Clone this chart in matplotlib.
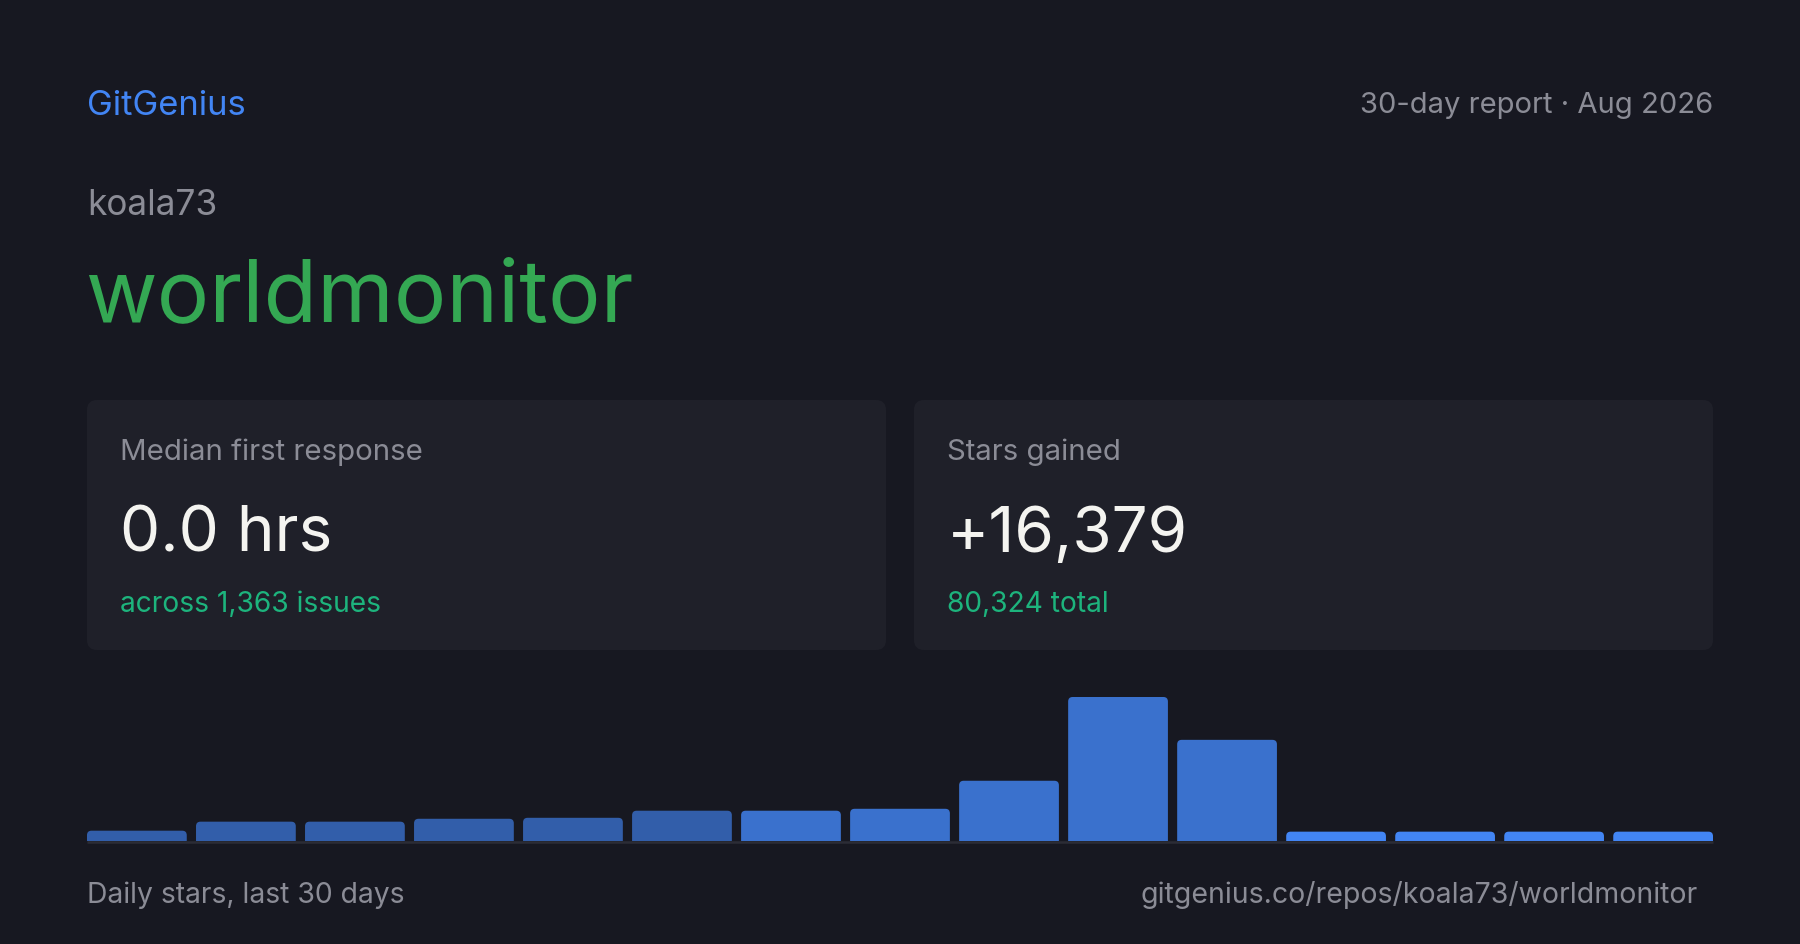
import matplotlib
matplotlib.use("Agg")
import matplotlib.pyplot as plt
from matplotlib.patches import FancyBboxPatch

# ---------------- data ----------------
brand = "GitGenius"
report_label = "30-day report · Aug 2026"
owner = "koala73"
repo = "worldmonitor"
card_titles = ["Median first response", "Stars gained"]
card_values = ["0.0 hrs", "+16,379"]
card_notes = ["across 1,363 issues", "80,324 total"]
daily_stars = [320, 600, 600, 690, 720, 940, 940, 1000, 1870, 4470, 3140, 290, 290, 290, 290]
bar_alpha = [0.65, 0.65, 0.65, 0.65, 0.65, 0.65, 0.82, 0.82, 0.82, 0.82, 0.82, 1.0, 1.0, 1.0, 1.0]
footer_left = "Daily stars, last 30 days"
footer_right = "gitgenius.co/repos/koala73/worldmonitor"

# ---------------- style ----------------
W, H, DPI = 1800, 945, 100
BG = "#171821"
CARD = "#1f2029"
BLUE = "#4285f4"
GREEN = "#34a853"
TEAL = "#1db47d"
GRAY = "#8b8c96"
WHITE = "#f4f4f0"
FONT = ["Inter", "DejaVu Sans"]
plt.rcParams["font.family"] = FONT

fig = plt.figure(figsize=(W / DPI, H / DPI), dpi=DPI, facecolor=BG)

# layout axes in pixel coordinates (y downwards)
lay = fig.add_axes([0, 0, 1, 1])
lay.set_xlim(0, W)
lay.set_ylim(H, 0)
lay.axis("off")
lay.set_facecolor(BG)

L, R = 87, 1713

lay.text(L, 115, brand, color=BLUE, fontsize=24.9, va="baseline", ha="left")
lay.text(R, 113, report_label, color=GRAY, fontsize=21, va="baseline", ha="right")
lay.text(L, 215, owner, color=GRAY, fontsize=25.4, va="baseline", ha="left")
lay.text(L - 2, 321, repo, color=GREEN, fontsize=63, va="baseline", ha="left")

# cards
card_x = [(87, 886), (914, 1713)]
card_top, card_bot = 401, 651
for (x0, x1), t, v, n in zip(card_x, card_titles, card_values, card_notes):
    p = FancyBboxPatch((x0, card_top), x1 - x0, card_bot - card_top,
                       boxstyle="round,pad=0,rounding_size=10",
                       facecolor=CARD, edgecolor="none")
    lay.add_patch(p)
    tx = x0 + 33
    lay.text(tx, 460, t, color=GRAY, fontsize=21.2, va="baseline", ha="left")
    lay.text(tx, 552, v, color=WHITE, fontsize=46, va="baseline", ha="left")
    lay.text(tx, 612, n, color=TEAL, fontsize=20.3, va="baseline", ha="left")

# footer
lay.text(L, 903, footer_left, color=GRAY, fontsize=20.4, va="baseline", ha="left")
lay.text(1698, 903, footer_right, color=GRAY, fontsize=20.5, va="baseline", ha="right")

# baseline rule
lay.plot([L, R], [843, 843], color="#2b2c36", lw=1.8, solid_capstyle="butt")

# ---------------- bar chart ----------------
base_y, top_y = 842, 690
ax = fig.add_axes([L / W, 1 - base_y / H, (R - L) / W, (base_y - top_y) / H])
ax.set_facecolor("none")
ax.axis("off")
n = len(daily_stars)
bw = 0.915
xs = list(range(n))
ymax = max(daily_stars) * (base_y - top_y) / 144.0
ax.set_xlim(-bw / 2, n - 1 + bw / 2)
ax.set_ylim(0, ymax)
bars = ax.bar(xs, daily_stars, width=bw, color=BLUE)

# round the top corners
px_per_x = (R - L) / (n - 1 + bw)
px_per_y = (base_y - top_y) / ymax
r_px = 4.5
for b, a in zip(bars, bar_alpha):
    b.set_visible(False)
    rx = r_px / px_per_x
    aspect = px_per_x / px_per_y
    p = FancyBboxPatch((b.get_x(), -r_px / px_per_y), b.get_width(),
                       b.get_height() + r_px / px_per_y,
                       boxstyle=f"round,pad=0,rounding_size={rx}",
                       mutation_aspect=aspect,
                       facecolor=BLUE, alpha=a, edgecolor="none")
    ax.add_patch(p)
    p.set_clip_on(True)
    p.set_clip_box(ax.bbox)

fig.savefig("out.png", dpi=DPI, facecolor=BG)
